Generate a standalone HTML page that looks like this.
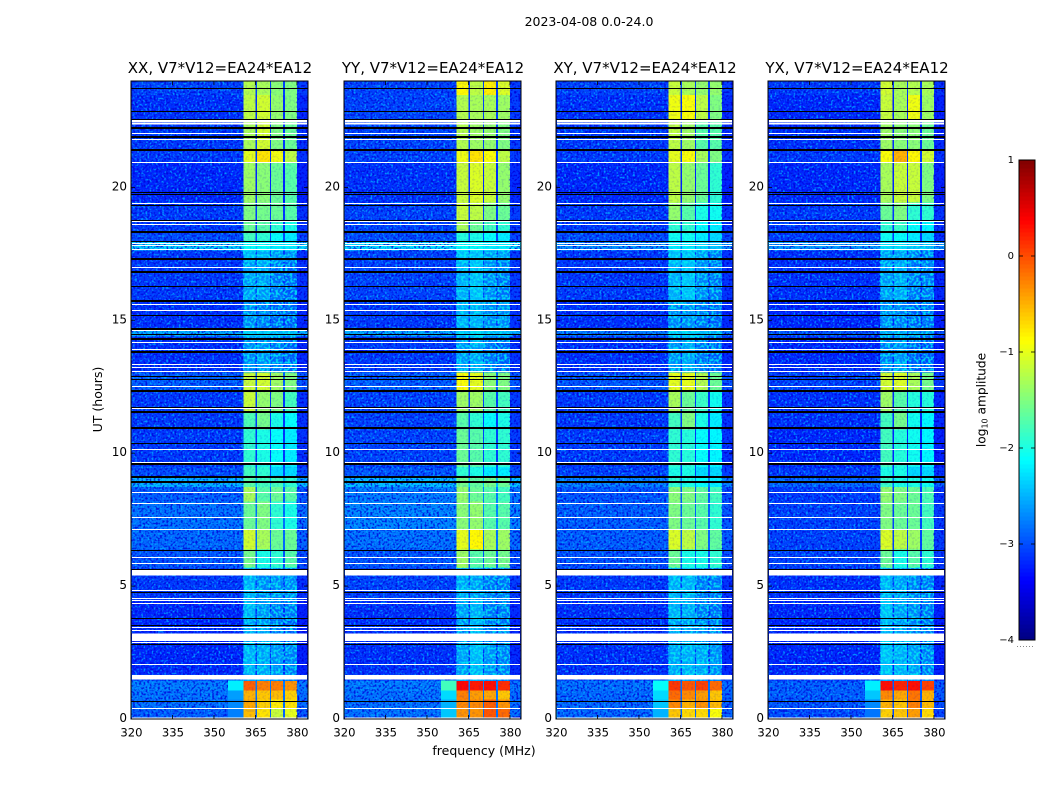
<!DOCTYPE html>
<html>
<head>
<meta charset="utf-8">
<title>2023-04-08 0.0-24.0</title>
<style>
html,body{margin:0;padding:0;background:#fff;width:1050px;height:800px;overflow:hidden}
svg{display:block}
text{font-family:"DejaVu Sans","Liberation Sans",sans-serif;fill:#000}
</style>
</head>
<body>
<svg id="chart" xmlns="http://www.w3.org/2000/svg" width="1050" height="800" viewBox="0 0 1050 800">
  <defs>
    <filter id="speckle-light" x="0" y="0" width="100%" height="100%" color-interpolation-filters="sRGB">
      <feTurbulence type="fractalNoise" baseFrequency="0.48" numOctaves="1" seed="4"/>
      <feColorMatrix type="matrix" values="0 0 0 0 0  0 0 0 0 0.66  0 0 0 0 1  4.6 0 0 0 -2.3"/>
    </filter>
    <filter id="speckle-dark" x="0" y="0" width="100%" height="100%" color-interpolation-filters="sRGB">
      <feTurbulence type="fractalNoise" baseFrequency="0.48" numOctaves="1" seed="11"/>
      <feColorMatrix type="matrix" values="0 0 0 0 0  0 0 0 0 0  0 0 0 0 0.85  0 4.6 0 0 -2.2"/>
    </filter>
    <filter id="speckle-cyan" x="0" y="0" width="100%" height="100%" color-interpolation-filters="sRGB">
      <feTurbulence type="fractalNoise" baseFrequency="0.42" numOctaves="1" seed="7"/>
      <feColorMatrix type="matrix" values="0 0 0 0 0  0 0 0 0 0.95  0 0 0 0 0.95  5 0 0 0 -2.2"/>
    </filter>
  </defs>
  <text x="589" y="26" text-anchor="middle" font-size="12.5">2023-04-08 0.0-24.0</text>
  <text x="484" y="755" text-anchor="middle" font-size="12.5">frequency (MHz)</text>
  <text transform="translate(102 399.5) rotate(-90)" text-anchor="middle" font-size="12.5">UT (hours)</text>
  <g id="panels"></g>
  <g id="colorbar"></g>
  <text transform="translate(985.5 400) rotate(-90)" text-anchor="middle" font-size="12.2">log<tspan font-size="8" dy="2">10</tspan><tspan dy="-2"> amplitude</tspan></text>
</svg>
<script>
/* ---------- data ---------- */
const panelTitles = ['XX, V7*V12=EA24*EA12','YY, V7*V12=EA24*EA12','XY, V7*V12=EA24*EA12','YX, V7*V12=EA24*EA12'];
const xTickValues = [320,335,350,365,380];
const yTickValues = [0,5,10,15,20];
const colorbarTickValues = [-4,-3,-2,-1,0,1];

/* Time row edges (UT hours) for the rows in each level table */
const rowEdges = [0,.4,.75,1.1,1.45,1.7,2.9,3.7,4.5,5.7,6.4,7.15,8.2,8.75,9.15,9.5,10.9,11.6,12.35,13.05,14.4,14.65,15.75,17.2,17.65,18,18.3,18.75,19.45,20.95,21.4,22.5,23.5,24];
/* Frequency channels in MHz; channelSource picks the column of a level row */
const channelEdges = [320,355,360.6,365.1,365.6,370.3,370.7,375,375.7,380,384];
const channelSource = [0,1,2,0,3,0,4,0,5,0];

/* log10 amplitude per row: [background, shoulder, band1, band2, band3, band4] */
const levelsXX = [
[-2.9,-2.75,-.55,-.75,-1.15,-1],[-2.8,-2.7,-.45,-.65,-.8,-.75],[-2.8,-2.6,-.5,-.6,-.55,-.65],[-2.75,-2.2,-.1,-.25,-.25,-.35],
[-3,-3,-2.6,-2.6,-2.7,-2.8],[-3.2,-3.2,-2.55,-2.6,-2.7,-2.8],[-3.2,-3.2,-2.65,-2.65,-2.85,-2.95],[-3.2,-3.2,-2.55,-2.7,-2.85,-2.85],
[-3.1,-3.1,-2.55,-2.75,-2.75,-2.75],[-2.95,-2.95,-1.55,-2,-1.9,-1.7],[-2.85,-2.85,-1.1,-1.3,-1.6,-1.6],[-2.8,-2.8,-1.6,-1.5,-1.9,-2],
[-2.9,-2.9,-1.3,-1.7,-1.6,-1.7],[-2.45,-2.45,-1.7,-1.8,-1.8,-1.9],[-3,-3,-1.8,-1.9,-2.3,-2.3],[-3.1,-3.1,-1.9,-2,-2.1,-2.2],
[-3.1,-3.1,-1.75,-1.55,-2,-2.1],[-3.1,-3.1,-1.15,-1.4,-1.5,-1.8],[-2.9,-2.9,-1.15,-1.1,-1.35,-1.5],[-3.15,-3.15,-2.75,-2.7,-2.85,-2.95],
[-2.5,-2.5,-2.4,-2.4,-2.5,-2.5],[-3.15,-3.15,-2.75,-2.85,-2.95,-2.95],[-3.1,-3.1,-2.65,-2.65,-2.85,-2.95],[-3.1,-3.1,-2.5,-2.55,-2.7,-2.75],
[-2.3,-2.3,-2.1,-2.1,-2.2,-2.2],[-3,-3,-1.8,-1.9,-2.1,-2.2],[-3.1,-3.1,-1.6,-1.7,-1.9,-2],[-3.1,-3.1,-1.5,-1.55,-1.6,-1.7],
[-3.2,-3.2,-1.35,-1.45,-1.6,-1.7],[-3.1,-3.1,-1,-.75,-.95,-1.2],[-3.1,-3.1,-1.3,-1.1,-1.5,-1.6],[-3.15,-3.15,-1.2,-1.1,-1.4,-1.5],
[-3.05,-3.05,-1.25,-1.3,-1.45,-1.5]];
const levelsYY = [
[-2.8,-2.4,-.35,-.35,-.05,-.15],[-2.8,-2.5,-.3,-.3,-.1,-.35],[-2.8,-2.3,-.25,-.4,-.45,-.6],[-2.75,-1.8,.35,.25,.3,.15],
[-3,-3,-2.6,-2.6,-2.7,-2.8],[-3.15,-3.15,-2.65,-2.5,-2.7,-2.8],[-3.15,-3.15,-2.75,-2.55,-2.85,-2.85],[-3.15,-3.15,-2.65,-2.55,-2.85,-2.85],
[-3.05,-3.05,-2.6,-2.65,-2.85,-2.85],[-2.95,-2.95,-1.35,-1.7,-1.6,-1.55],[-2.8,-2.8,-1,-.85,-1.3,-1.35],[-2.7,-2.7,-1.45,-1.4,-1.7,-1.7],
[-2.75,-2.75,-1.4,-1.6,-1.7,-1.8],[-2.4,-2.4,-1.55,-1.65,-1.55,-1.6],[-2.95,-2.95,-1.9,-2,-2.2,-2.2],[-3.05,-3.05,-1.6,-1.7,-1.9,-1.9],
[-3.05,-3.05,-1.7,-1.9,-2.1,-2],[-3.05,-3.05,-1.35,-1.35,-1.7,-1.8],[-2.9,-2.9,-.9,-1,-1.45,-1.5],[-3.1,-3.1,-2.65,-2.6,-2.85,-2.95],
[-2.5,-2.5,-2.4,-2.3,-2.5,-2.5],[-3.1,-3.1,-2.55,-2.55,-2.75,-2.75],[-3.05,-3.05,-2.55,-2.45,-2.75,-2.85],[-3.05,-3.05,-2.45,-2.45,-2.65,-2.65],
[-2.25,-2.25,-2.1,-2.1,-2.2,-2.2],[-3,-3,-1.95,-2,-2.1,-2.2],[-3.05,-3.05,-1.3,-1.6,-1.8,-1.9],[-3.05,-3.05,-1.15,-1.2,-1.5,-1.6],
[-3.15,-3.15,-1.15,-1.05,-1.15,-1.4],[-3.05,-3.05,-.95,-.75,-.9,-1.2],[-3.05,-3.05,-1.25,-1.35,-1.4,-1.5],[-3.05,-3.05,-1.25,-1.3,-1.3,-1.35],
[-3.05,-3.05,-.85,-1.2,-.8,-1.05]];
const levelsXY = [
[-2.85,-2.5,-.6,-.7,-.7,-.9],[-2.85,-2.4,-.3,-.5,-.35,-.55],[-2.85,-2.3,-.15,-.3,-.4,-.6],[-2.8,-2.1,.1,-.05,.05,-.15],
[-3,-3,-2.6,-2.6,-2.7,-2.8],[-3.15,-3.15,-2.6,-2.55,-2.6,-2.75],[-3.15,-3.15,-2.65,-2.65,-2.75,-2.85],[-3.15,-3.15,-2.55,-2.6,-2.85,-2.9],
[-3.1,-3.1,-2.55,-2.55,-2.85,-2.85],[-2.95,-2.95,-1.6,-2,-2,-1.9],[-2.9,-2.9,-1.05,-1.2,-1.5,-1.65],[-2.9,-2.9,-1.5,-1.6,-1.7,-1.9],
[-2.95,-2.95,-1.45,-1.5,-1.65,-1.8],[-2.7,-2.7,-1.9,-2,-2.1,-2.2],[-3.05,-3.05,-2,-2,-2.3,-2.3],[-3.1,-3.1,-1.9,-1.95,-2.1,-2.15],
[-3.1,-3.1,-1.8,-1.5,-2,-2.2],[-3.1,-3.1,-1.3,-1.6,-1.85,-2.05],[-2.95,-2.95,-1,-1,-1.25,-1.6],[-3.15,-3.15,-2.7,-2.6,-2.85,-2.95],
[-2.75,-2.75,-2.4,-2.4,-2.5,-2.6],[-3.15,-3.15,-2.75,-2.75,-2.85,-2.95],[-3.1,-3.1,-2.55,-2.45,-2.75,-2.85],[-3.1,-3.1,-2.45,-2.45,-2.65,-2.8],
[-2.65,-2.65,-2.2,-2.2,-2.3,-2.4],[-3,-3,-2.05,-2.05,-2.2,-2.3],[-3.1,-3.1,-1.9,-1.9,-2.1,-2.2],[-3.1,-3.1,-1.4,-1.7,-2,-2.05],
[-3.2,-3.2,-1.2,-1.4,-1.6,-1.9],[-3.1,-3.1,-1,-.9,-1.3,-1.5],[-3.1,-3.1,-1.2,-1.35,-1.7,-1.7],[-3.15,-3.15,-.95,-.9,-1.2,-1.5],
[-3.05,-3.05,-1.15,-1.3,-1.4,-1.4]];
const levelsYX = [
[-3,-2.8,-.65,-.6,-.4,-.7],[-2.95,-2.7,-.5,-.6,-.25,-.55],[-2.9,-2.4,-.3,-.45,-.2,-.5],[-2.9,-2.2,.3,.2,.3,.05],
[-3.1,-3.1,-2.6,-2.6,-2.7,-2.8],[-3.2,-3.2,-2.45,-2.55,-2.65,-2.8],[-3.2,-3.2,-2.55,-2.65,-2.8,-2.9],[-3.2,-3.2,-2.45,-2.65,-2.75,-2.85],
[-3.15,-3.15,-2.55,-2.65,-2.8,-2.85],[-3.05,-3.05,-1.6,-2,-1.7,-1.9],[-3.05,-3.05,-1.05,-1.2,-1.35,-1.65],[-3.05,-3.05,-1.5,-1.6,-1.6,-1.8],
[-3.1,-3.1,-1.4,-1.5,-1.6,-1.75],[-2.85,-2.85,-1.85,-2,-2,-2.05],[-3.1,-3.1,-2,-2,-2.3,-2.3],[-3.2,-3.2,-1.8,-1.95,-2.05,-2.15],
[-3.15,-3.15,-1.8,-1.55,-2.05,-2.15],[-3.15,-3.15,-1.35,-1.7,-1.95,-1.95],[-3.05,-3.05,-1.1,-1.05,-1.3,-1.55],[-3.2,-3.2,-2.8,-2.7,-2.95,-3],
[-2.95,-2.95,-2.6,-2.6,-2.65,-2.75],[-3.2,-3.2,-2.75,-2.8,-2.95,-2.9],[-3.15,-3.15,-2.65,-2.6,-2.85,-2.85],[-3.15,-3.15,-2.65,-2.65,-2.8,-2.85],
[-2.6,-2.6,-2.3,-2.3,-2.45,-2.5],[-3.1,-3.1,-2.05,-2.1,-2.2,-2.3],[-3.1,-3.1,-1.9,-1.85,-2.1,-2.15],[-3.1,-3.1,-1.6,-1.5,-1.9,-1.9],
[-3.2,-3.2,-1.3,-1.15,-1.15,-1.5],[-3.1,-3.1,-.9,-.5,-.85,-1.1],[-3.15,-3.15,-1.35,-1.45,-1.45,-1.6],[-3.2,-3.2,-1.15,-1.3,-.95,-1.35],
[-3.1,-3.1,-1.1,-1.3,-1.25,-1.3]];
const panelLevels = [levelsXX, levelsYY, levelsXY, levelsYX];

/* Flagged time samples, UT hours */
const whiteThinHours = [22.05,21.82,20.94,19.4,18.74,18.62,17.92,17.82,17.67,17.02,15.6,15.38,14.62,14.17,13.93,13.34,13.23,13.09,12.52,11.7,10.15,9.66,8.53,8.12,7.59,7.14,6.08,5.86,4.84,4.54,4.47,4.36,3.45,3.35,2.9,2.06,.43];
const whiteBandHours = [[22.46,22.54],[22.37,22.44],[5.39,5.61],[2.93,3.22],[1.49,1.66],[0,.05]];
const blackThinHours = [23.73,22.86,22.56,19.82,19.76,19.34,18.77,17.98,16.3,15.19,14.48,12.9,12.78,11.75,10.37,6.37,5.65,4.77,3.79,3.54,2.81,.67];
const blackThickHours = [22.25,21.91,21.41,18.31,17.3,16.83,15.73,14.67,14.3,13.82,12.35,11.55,10.96,9.58,9.12,8.91];

/* ---------- layout ---------- */
const NS = 'http://www.w3.org/2000/svg';
const panelLefts = [131,344,556,768];
const panelWidth = 177, plotTop = 81, plotBottom = 719;
const freqMin = 320, freqMax = 384, hourMin = 0, hourMax = 24;
const cbLeft = 1019, cbRight = 1035, cbTop = 160, cbBottom = 640, cbMin = -4, cbMax = 1;

function xScale(left, f){ return left + (f - freqMin) / (freqMax - freqMin) * panelWidth; }
function yScale(h){ return plotBottom - (h - hourMin) / (hourMax - hourMin) * (plotBottom - plotTop); }
function cbScale(v){ return cbBottom - (v - cbMin) / (cbMax - cbMin) * (cbBottom - cbTop); }

function jet(t){
  t = Math.max(0, Math.min(1, t));
  const ch = (a) => Math.round(255 * Math.max(0, Math.min(1, 1.5 - Math.abs(4 * t - a))));
  return 'rgb(' + ch(3) + ',' + ch(2) + ',' + ch(1) + ')';
}
function levelColor(v){ return jet((v - cbMin) / (cbMax - cbMin)); }
function make(tag, attrs, parent){
  const el = document.createElementNS(NS, tag);
  for (const k in attrs) el.setAttribute(k, attrs[k]);
  parent.appendChild(el);
  return el;
}

const panelsRoot = document.getElementById('panels');
panelTitles.forEach((title, p) => {
  const left = panelLefts[p], right = left + panelWidth;
  const g = make('g', {}, panelsRoot);
  
  

  const clipId = 'clip-' + p;
  const clip = make('clipPath', {id: clipId}, g);
  make('rect', {x: left, y: plotTop, width: panelWidth, height: plotBottom - plotTop}, clip);

  const t = make('text', {x: left + panelWidth / 2 + .5, y: 73, 'text-anchor': 'middle', 'font-size': 15}, g);
  
  
  t.textContent = title;

  /* heatmap cells */
  const cells = make('g', {'shape-rendering': 'crispEdges', 'clip-path': 'url(#' + clipId + ')'}, g);
  
  
  panelLevels[p].forEach((row, r) => {
    const yTop = yScale(rowEdges[r + 1]), yBot = yScale(rowEdges[r]);
    channelSource.forEach((src, c) => {
      const x0 = xScale(left, channelEdges[c]), x1 = xScale(left, channelEdges[c + 1]);
      const cell = make('rect', {x: x0, y: yTop, width: x1 - x0 + .5, height: yBot - yTop + .5, fill: levelColor(row[src])}, cells);
      
      
    });
  });

  /* receiver noise speckle */
  const noise = make('g', {'clip-path': 'url(#' + clipId + ')'}, g);
  
  
  const midX = xScale(left, 360.6);
  const rightX = xScale(left, 380);
  make('rect', {x: left, y: plotTop, width: midX - left, height: plotBottom - plotTop, filter: 'url(#speckle-light)', opacity: .85}, noise);
  make('rect', {x: left, y: plotTop, width: midX - left, height: plotBottom - plotTop, filter: 'url(#speckle-dark)', opacity: .8}, noise);
  make('rect', {x: midX, y: plotTop, width: rightX - midX, height: plotBottom - plotTop, filter: 'url(#speckle-dark)', opacity: .12}, noise);
  make('rect', {x: rightX, y: plotTop, width: right - rightX, height: plotBottom - plotTop, filter: 'url(#speckle-dark)', opacity: .9}, noise);

  /* cyan speckle where the bands sit close to the noise floor */
  panelLevels[p].forEach((row, r) => {
    if (row[2] > -2.3) return;
    const yTop = yScale(rowEdges[r + 1]), yBot = yScale(rowEdges[r]);
    const el = make('rect', {x: midX, y: yTop, width: rightX - midX, height: yBot - yTop, filter: 'url(#speckle-cyan)', opacity: .8}, noise);
    
    
  });

  /* smooth shoulder next to the band edge, where it rises above the background */
  const shoulder = make('g', {'shape-rendering': 'crispEdges', 'clip-path': 'url(#' + clipId + ')'}, g);
  
  
  panelLevels[p].forEach((row, r) => {
    if (row[1] === row[0]) return;
    const yTop = yScale(rowEdges[r + 1]), yBot = yScale(rowEdges[r]);
    const x0 = xScale(left, channelEdges[1]), x1 = xScale(left, channelEdges[2]);
    const cell = make('rect', {x: x0, y: yTop, width: x1 - x0, height: yBot - yTop + .5, fill: levelColor(row[1])}, shoulder);
    
    
  });

  /* flagged samples */
  const flags = make('g', {'shape-rendering': 'crispEdges', 'clip-path': 'url(#' + clipId + ')'}, g);
  
  
  blackThinHours.forEach((h) => {
    const el = make('rect', {x: left, y: Math.round(yScale(h)), width: panelWidth, height: 1, fill: '#000'}, flags);
    
    
  });
  blackThickHours.forEach((h) => {
    const el = make('rect', {x: left, y: Math.round(yScale(h)) - 1, width: panelWidth, height: 2, fill: '#000'}, flags);
    
    
  });
  whiteThinHours.forEach((h) => {
    const el = make('rect', {x: left + 1, y: Math.round(yScale(h)), width: panelWidth - 2, height: 1, fill: '#fff'}, flags);
    
    
  });
  whiteBandHours.forEach((b) => {
    const y0 = yScale(b[1]), y1 = yScale(b[0]);
    const el = make('rect', {x: left + 1, y: y0, width: panelWidth - 2, height: y1 - y0, fill: '#fff'}, flags);
    
    
  });

  /* frame */
  const frame = make('rect', {x: left, y: plotTop, width: panelWidth, height: plotBottom - plotTop, fill: 'none', stroke: '#000', 'stroke-width': 1}, g);
  
  

  /* ticks */
  xTickValues.forEach((f) => {
    const x = xScale(left, f);
    const t1 = make('line', {x1: x, x2: x, y1: plotBottom, y2: plotBottom - 4, stroke: '#000', 'stroke-width': .8}, g);
    
    
    const t2 = make('line', {x1: x, x2: x, y1: plotTop, y2: plotTop + 4, stroke: '#000', 'stroke-width': .8}, g);
    
    
    const lab = make('text', {x: x + .5, y: 736.5, 'text-anchor': 'middle', 'font-size': 11.6}, g);
    
    
    lab.textContent = f;
  });
  yTickValues.forEach((h) => {
    const y = yScale(h);
    const t1 = make('line', {x1: left, x2: left + 4, y1: y, y2: y, stroke: '#000', 'stroke-width': .8}, g);
    
    
    const t2 = make('line', {x1: right, x2: right - 4, y1: y, y2: y, stroke: '#000', 'stroke-width': .8}, g);
    
    
    const lab = make('text', {x: left - 4, y: y + 3, 'text-anchor': 'end', 'font-size': 12}, g);
    
    
    lab.textContent = h;
  });
});

/* ---------- colorbar ---------- */
const cb = document.getElementById('colorbar');
const cbSteps = 120;
const cbRamp = make('g', {'shape-rendering': 'crispEdges'}, cb);


for (let i = 0; i < cbSteps; i++){
  const v0 = cbMin + (cbMax - cbMin) * i / cbSteps;
  const v1 = cbMin + (cbMax - cbMin) * (i + 1) / cbSteps;
  const seg = make('rect', {x: cbLeft, y: cbScale(v1), width: cbRight - cbLeft, height: cbScale(v0) - cbScale(v1) + .5, fill: levelColor((v0 + v1) / 2)}, cbRamp);
  
  
}
const cbFrame = make('rect', {x: cbLeft, y: cbTop, width: cbRight - cbLeft, height: cbBottom - cbTop, fill: 'none', stroke: '#000', 'stroke-width': 1}, cb);


colorbarTickValues.forEach((v) => {
  const y = cbScale(v);
  const a = make('line', {x1: cbLeft, x2: cbLeft + 4, y1: y, y2: y, stroke: '#000', 'stroke-width': .8}, cb);
  
  
  const b = make('line', {x1: cbRight, x2: cbRight - 4, y1: y, y2: y, stroke: '#000', 'stroke-width': .8}, cb);
  
  
  const lab = make('text', {x: 1014, y: y + 3, 'text-anchor': 'end', 'font-size': 10}, cb);
  
  
  lab.textContent = v < 0 ? '\u2212' + Math.abs(v) : String(v);
});
const cbDots = make('line', {x1: 1017, x2: 1035, y1: 646.5, y2: 646.5, stroke: '#888', 'stroke-width': 1, 'stroke-dasharray': '1 2'}, cb);


</script>
</body>
</html>
